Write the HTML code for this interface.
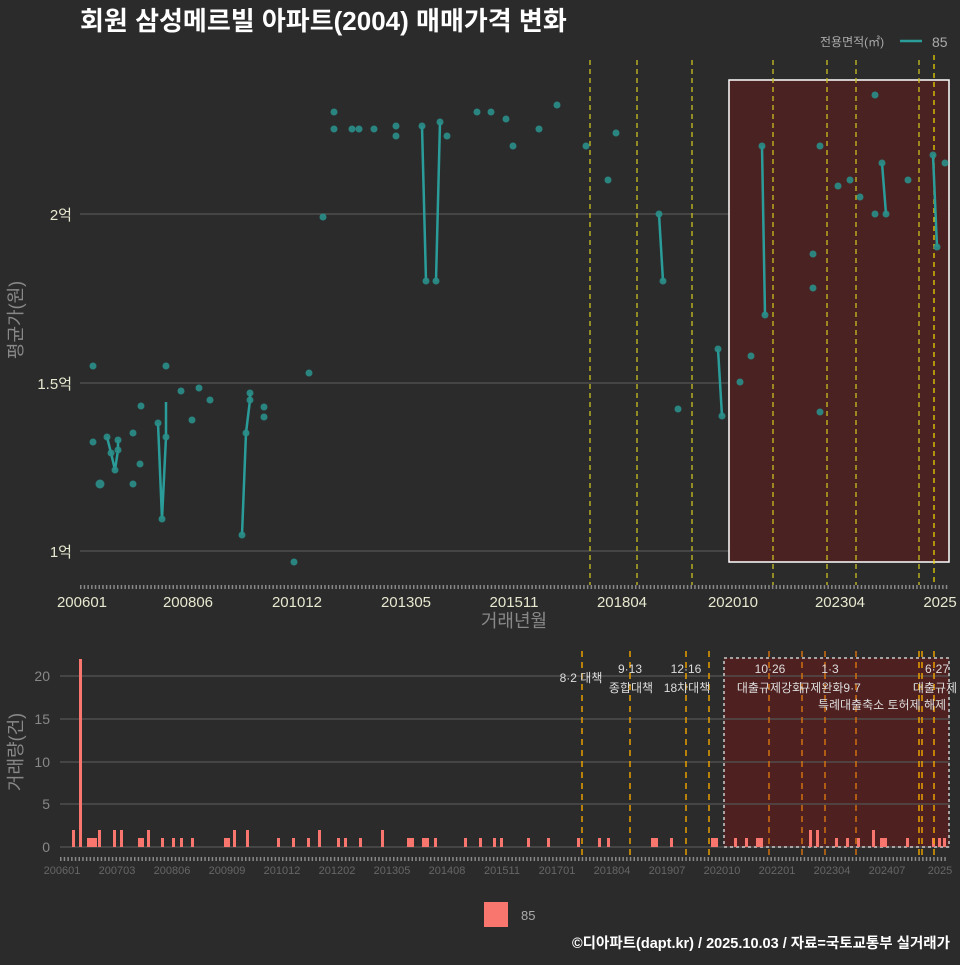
<!DOCTYPE html>
<html><head><meta charset="utf-8"><style>
body{margin:0;background:#2b2b2b;width:960px;height:960px;overflow:hidden;font-family:"Liberation Sans","Noto Sans CJK KR",sans-serif}
</style></head><body>
<svg width="960" height="960" xmlns="http://www.w3.org/2000/svg" font-family="'Liberation Sans','Noto Sans CJK KR',sans-serif">
<rect width="960" height="960" fill="#2b2b2b"/>
<text x="80" y="30" font-size="26" font-weight="bold" fill="#fff">회원 삼성메르빌 아파트(2004) 매매가격 변화</text>
<text x="820" y="46" font-size="12" fill="#aaa">전용면적(㎡)</text>
<line x1="900" y1="41" x2="922" y2="41" stroke="#2a9d9a" stroke-width="2.5"/>
<text x="932" y="47" font-size="14" fill="#aaa">85</text>
<g stroke="#555" stroke-width="1.2"><line x1="80" y1="551" x2="950" y2="551"/><line x1="80" y1="383" x2="950" y2="383"/><line x1="80" y1="214" x2="950" y2="214"/></g>
<g font-size="15" fill="#e8e8d0" text-anchor="end"><text x="72" y="557">1억</text><text x="72" y="389">1.5억</text><text x="72" y="220">2억</text></g>
<text transform="translate(22,320) rotate(-90)" font-size="18" fill="#888" text-anchor="middle">평균가(원)</text>
<rect x="729" y="80" width="220" height="482" fill="#4b2222" stroke="#fff" stroke-width="1.5"/>
<g stroke="#c8c020" stroke-width="1.3" stroke-dasharray="5,4"><line x1="590" y1="60" x2="590" y2="585"/><line x1="637" y1="60" x2="637" y2="585"/><line x1="692" y1="60" x2="692" y2="585"/><line x1="773" y1="60" x2="773" y2="585"/><line x1="827" y1="60" x2="827" y2="585"/><line x1="856" y1="60" x2="856" y2="585"/><line x1="919" y1="60" x2="919" y2="585"/><line x1="934" y1="55" x2="934" y2="585" stroke="#e8d000"/></g>
<line x1="80" y1="587" x2="948" y2="587" stroke="#888" stroke-width="4" stroke-dasharray="1.5,2.2"/>
<g font-size="15" fill="#e8e8d0" text-anchor="middle"><text x="82" y="607">200601</text><text x="188" y="607">200806</text><text x="297" y="607">201012</text><text x="406" y="607">201305</text><text x="514" y="607">201511</text><text x="622" y="607">201804</text><text x="733" y="607">202010</text><text x="840" y="607">202304</text><text x="940" y="607">2025</text></g>
<text x="514" y="627" font-size="18" fill="#888" text-anchor="middle">거래년월</text>
<g stroke="#2a9d9a" stroke-width="2.5" fill="none">
<polyline points="107,437 111,453 115,470 118,450 118,440"/><polyline points="158,423 162,519 166,437 166,402"/><polyline points="242,535 246,433 250,400 250,393"/><polyline points="422,126 426,281"/><polyline points="436,281 440,122"/><polyline points="659,214 663,281"/><polyline points="718,349 722,416"/><polyline points="762,146 765,315"/><polyline points="882,163 886,214"/><polyline points="933,155 937,247"/></g>
<g fill="#2a8f8a" opacity="0.9">
<circle cx="93" cy="442" r="3.5"/><circle cx="93" cy="366" r="3.5"/><circle cx="100" cy="484" r="4.5"/><circle cx="107" cy="437" r="3.5"/><circle cx="111" cy="453" r="3.5"/><circle cx="115" cy="470" r="3.5"/><circle cx="118" cy="450" r="3.5"/><circle cx="118" cy="440" r="3.5"/><circle cx="133" cy="484" r="3.5"/><circle cx="133" cy="433" r="3.5"/><circle cx="140" cy="464" r="3.5"/><circle cx="141" cy="406" r="3.5"/><circle cx="158" cy="423" r="3.5"/><circle cx="162" cy="519" r="3.5"/><circle cx="166" cy="437" r="3.5"/><circle cx="166" cy="366" r="3.5"/><circle cx="181" cy="391" r="3.5"/><circle cx="192" cy="420" r="3.5"/><circle cx="199" cy="388" r="3.5"/><circle cx="210" cy="400" r="3.5"/><circle cx="242" cy="535" r="3.5"/><circle cx="246" cy="433" r="3.5"/><circle cx="250" cy="400" r="3.5"/><circle cx="250" cy="393" r="3.5"/><circle cx="264" cy="407" r="3.5"/><circle cx="264" cy="417" r="3.5"/><circle cx="294" cy="562" r="3.5"/><circle cx="309" cy="373" r="3.5"/><circle cx="323" cy="217" r="3.5"/><circle cx="334" cy="112" r="3.5"/><circle cx="334" cy="129" r="3.5"/><circle cx="352" cy="129" r="3.5"/><circle cx="359" cy="129" r="3.5"/><circle cx="374" cy="129" r="3.5"/><circle cx="396" cy="126" r="3.5"/><circle cx="396" cy="136" r="3.5"/><circle cx="422" cy="126" r="3.5"/><circle cx="426" cy="281" r="3.5"/><circle cx="436" cy="281" r="3.5"/><circle cx="440" cy="122" r="3.5"/><circle cx="447" cy="136" r="3.5"/><circle cx="477" cy="112" r="3.5"/><circle cx="491" cy="112" r="3.5"/><circle cx="506" cy="119" r="3.5"/><circle cx="513" cy="146" r="3.5"/><circle cx="539" cy="129" r="3.5"/><circle cx="557" cy="105" r="3.5"/><circle cx="586" cy="146" r="3.5"/><circle cx="608" cy="180" r="3.5"/><circle cx="616" cy="133" r="3.5"/><circle cx="659" cy="214" r="3.5"/><circle cx="663" cy="281" r="3.5"/><circle cx="678" cy="409" r="3.5"/><circle cx="718" cy="349" r="3.5"/><circle cx="722" cy="416" r="3.5"/><circle cx="740" cy="382" r="3.5"/><circle cx="751" cy="356" r="3.5"/><circle cx="762" cy="146" r="3.5"/><circle cx="765" cy="315" r="3.5"/><circle cx="813" cy="254" r="3.5"/><circle cx="813" cy="288" r="3.5"/><circle cx="820" cy="146" r="3.5"/><circle cx="820" cy="412" r="3.5"/><circle cx="838" cy="186" r="3.5"/><circle cx="850" cy="180" r="3.5"/><circle cx="860" cy="197" r="3.5"/><circle cx="875" cy="95" r="3.5"/><circle cx="875" cy="214" r="3.5"/><circle cx="882" cy="163" r="3.5"/><circle cx="886" cy="214" r="3.5"/><circle cx="908" cy="180" r="3.5"/><circle cx="933" cy="155" r="3.5"/><circle cx="937" cy="247" r="3.5"/><circle cx="945" cy="163" r="3.5"/></g>
<rect x="724" y="658" width="225" height="189" fill="#4f2020"/>
<g stroke="#555" stroke-width="1.2"><line x1="60" y1="847" x2="950" y2="847"/><line x1="60" y1="804" x2="950" y2="804"/><line x1="60" y1="762" x2="950" y2="762"/><line x1="60" y1="719" x2="950" y2="719"/><line x1="60" y1="676" x2="950" y2="676"/></g>
<g font-size="14" fill="#888" text-anchor="end"><text x="50" y="852">0</text><text x="50" y="809">5</text><text x="50" y="767">10</text><text x="50" y="724">15</text><text x="50" y="681">20</text></g>
<text transform="translate(22,752) rotate(-90)" font-size="18" fill="#888" text-anchor="middle">거래량(건)</text>
<rect x="724" y="658" width="225" height="189" fill="none" stroke="#ccc" stroke-width="1.5" stroke-dasharray="3,3"/>
<g fill="#f8766d">
<rect x="72" y="830" width="3" height="17"/><rect x="79" y="659" width="3" height="188"/><rect x="87" y="838" width="10" height="9"/><rect x="98" y="830" width="3" height="17"/><rect x="113" y="830" width="3" height="17"/><rect x="120" y="830" width="3" height="17"/><rect x="138" y="838" width="6" height="9"/><rect x="147" y="830" width="3" height="17"/><rect x="161" y="838" width="3" height="9"/><rect x="172" y="838" width="3" height="9"/><rect x="180" y="838" width="3" height="9"/><rect x="191" y="838" width="3" height="9"/><rect x="224" y="838" width="6" height="9"/><rect x="233" y="830" width="3" height="17"/><rect x="246" y="830" width="3" height="17"/><rect x="277" y="838" width="3" height="9"/><rect x="292" y="838" width="3" height="9"/><rect x="307" y="838" width="3" height="9"/><rect x="318" y="830" width="3" height="17"/><rect x="337" y="838" width="3" height="9"/><rect x="344" y="838" width="3" height="9"/><rect x="359" y="838" width="3" height="9"/><rect x="381" y="830" width="3" height="17"/><rect x="407" y="838" width="7" height="9"/><rect x="422" y="838" width="7" height="9"/><rect x="434" y="838" width="3" height="9"/><rect x="464" y="838" width="3" height="9"/><rect x="479" y="838" width="3" height="9"/><rect x="493" y="838" width="3" height="9"/><rect x="500" y="838" width="3" height="9"/><rect x="527" y="838" width="3" height="9"/><rect x="547" y="838" width="3" height="9"/><rect x="577" y="838" width="3" height="9"/><rect x="598" y="838" width="3" height="9"/><rect x="607" y="838" width="3" height="9"/><rect x="651" y="838" width="7" height="9"/><rect x="670" y="838" width="3" height="9"/><rect x="711" y="838" width="7" height="9"/><rect x="734" y="838" width="3" height="9"/><rect x="745" y="838" width="3" height="9"/><rect x="756" y="838" width="7" height="9"/><rect x="809" y="830" width="3" height="17"/><rect x="816" y="830" width="3" height="17"/><rect x="835" y="838" width="3" height="9"/><rect x="846" y="838" width="3" height="9"/><rect x="857" y="838" width="3" height="9"/><rect x="872" y="830" width="3" height="17"/><rect x="880" y="838" width="7" height="9"/><rect x="906" y="838" width="3" height="9"/><rect x="932" y="838" width="3" height="9"/><rect x="938" y="838" width="3" height="9"/><rect x="943" y="838" width="3" height="9"/></g>
<g stroke="#e8a000" stroke-width="1.5" stroke-dasharray="6,5"><line x1="582" y1="651" x2="582" y2="857"/><line x1="630" y1="651" x2="630" y2="857"/><line x1="686" y1="651" x2="686" y2="857"/><line x1="709" y1="651" x2="709" y2="857"/><line x1="769" y1="651" x2="769" y2="857" stroke="#d07010"/><line x1="802" y1="651" x2="802" y2="857" stroke="#d07010"/><line x1="825" y1="651" x2="825" y2="857" stroke="#d07010"/><line x1="856" y1="651" x2="856" y2="857" stroke="#d07010"/><line x1="919" y1="651" x2="919" y2="857"/><line x1="922" y1="651" x2="922" y2="857"/><line x1="934" y1="651" x2="934" y2="857"/></g>
<g font-size="12" fill="#ddd" text-anchor="middle"><text x="581" y="682">8·2 대책</text><text x="630" y="673">9·13</text><text x="631" y="692">종합대책</text><text x="686" y="673">12·16</text><text x="687" y="692">18차대책</text><text x="770" y="673">10·26</text><text x="770" y="692">대출규제강화</text><text x="830" y="673">1·3</text><text x="830" y="692">규제완화9·7</text><text x="882" y="709">특례대출축소 토허제 해제</text><text x="937" y="673">6·27</text><text x="935" y="692">대출규제</text></g>
<line x1="60" y1="859" x2="948" y2="859" stroke="#888" stroke-width="4" stroke-dasharray="1.5,2.2"/>
<g font-size="11" fill="#666" text-anchor="middle"><text x="62" y="874">200601</text><text x="117" y="874">200703</text><text x="172" y="874">200806</text><text x="227" y="874">200909</text><text x="282" y="874">201012</text><text x="337" y="874">201202</text><text x="392" y="874">201305</text><text x="447" y="874">201408</text><text x="502" y="874">201511</text><text x="557" y="874">201701</text><text x="612" y="874">201804</text><text x="667" y="874">201907</text><text x="722" y="874">202010</text><text x="777" y="874">202201</text><text x="832" y="874">202304</text><text x="887" y="874">202407</text><text x="940" y="874">2025</text></g>
<rect x="484" y="902" width="24" height="25" fill="#f8766d"/>
<text x="521" y="920" font-size="13" fill="#aaa">85</text>
<text x="950" y="948" font-size="14.5" font-weight="bold" fill="#fff" text-anchor="end">©디아파트(dapt.kr) / 2025.10.03 / 자료=국토교통부 실거래가</text>
</svg>
</body></html>
